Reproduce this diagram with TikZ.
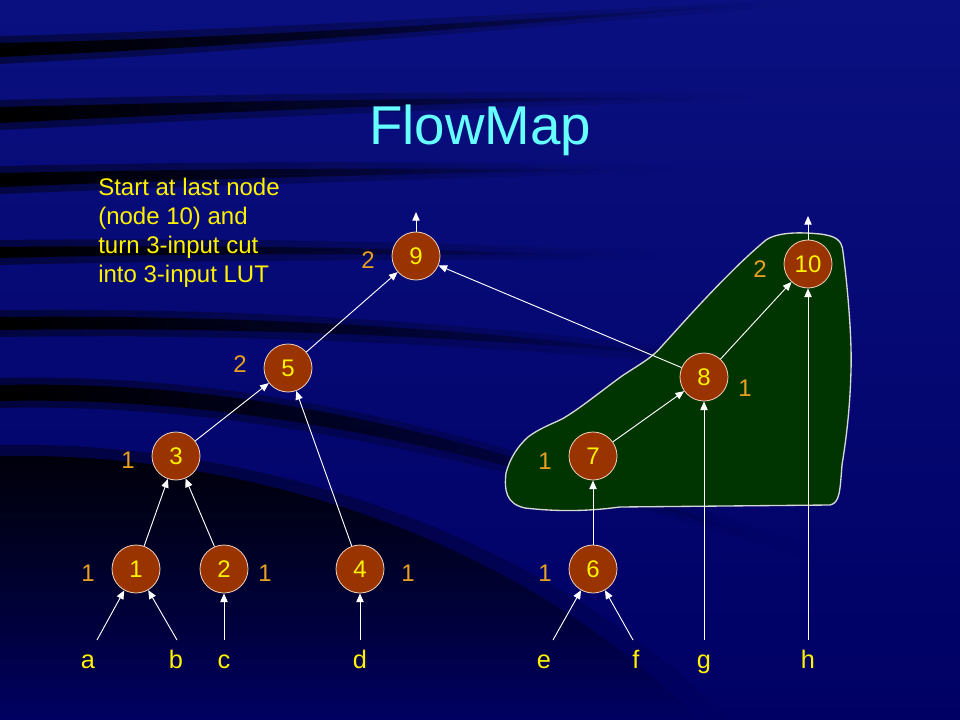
\documentclass[tikz,border=0pt]{standalone}
\usepackage{fontspec}
\setmainfont{Liberation Sans}
\usetikzlibrary{arrows.meta,fadings}
\definecolor{bgtop}{RGB}{10,16,128}
\definecolor{bgbot}{RGB}{0,0,100}
\definecolor{nodebrown}{RGB}{153,51,0}
\definecolor{nodeedge}{RGB}{240,210,190}
\definecolor{lblorange}{RGB}{232,160,32}
\definecolor{blobgreen}{RGB}{0,52,0}
\definecolor{blobedge}{RGB}{215,215,215}
\definecolor{titlecyan}{RGB}{102,255,255}
\tikzfading[name=fadeR, left color=transparent!0, right color=transparent!100]
\tikzfading[name=fadeD, top color=transparent!0, bottom color=transparent!100]
\begin{document}
\begin{tikzpicture}[x=0.75pt,y=-0.75pt,
  fnode/.style={circle, fill=nodebrown, draw=nodeedge, line width=0.6pt, minimum size=36pt, inner sep=0pt, text=yellow, font=\fontsize{18}{21}\selectfont},
  wlbl/.style={text=lblorange, inner sep=0pt, font=\fontsize{18}{21}\selectfont},
  inlbl/.style={text=yellow, inner sep=0pt, font=\fontsize{19}{22}\selectfont},
  conn/.style={draw=white, line width=0.7pt, -{Triangle[length=6.5pt,width=5.5pt]}},
  band/.style={fill=black, path fading=fadeR},
  haze/.style={fill=black, opacity=0.45, path fading=fadeR}]
\useasboundingbox (0,0) rectangle (960,720);
% background
\fill[top color=bgtop, bottom color=bgbot] (0,0) rectangle (960,720);
% swooshes (soft halo + core)
\fill[haze] (0,36) .. controls (250,30) and (500,14) .. (800,0) -- (820,4) .. controls (500,30) and (250,52) .. (0,64) -- cycle;
\fill[band] (0,43) .. controls (250,38) and (480,22) .. (760,4) .. controls (480,28) and (250,46) .. (0,57) -- cycle;
\fill[haze] (0,100) .. controls (250,94) and (450,90) .. (760,94) -- (760,100) .. controls (450,108) and (250,118) .. (0,130) -- cycle;
\fill[band] (0,107) .. controls (250,101) and (450,97) .. (700,98) .. controls (450,102) and (250,111) .. (0,123) -- cycle;
\fill[haze] (0,166) .. controls (200,162) and (400,160) .. (680,166) -- (680,172) .. controls (400,180) and (200,186) .. (0,194) -- cycle;
\fill[band] (0,173) .. controls (200,169) and (400,167) .. (620,170) .. controls (400,174) and (200,179) .. (0,187) -- cycle;
\fill[haze] (0,240) .. controls (200,238) and (400,240) .. (660,252) -- (660,260) .. controls (400,260) and (200,260) .. (0,265) -- cycle;
\fill[band] (0,247) .. controls (200,245) and (400,247) .. (600,256) .. controls (400,254) and (200,253) .. (0,258) -- cycle;
\fill[haze] (0,310) .. controls (200,308) and (450,316) .. (780,362) -- (780,372) .. controls (450,340) and (200,334) .. (0,337) -- cycle;
\fill[band] (0,317) .. controls (200,315) and (450,323) .. (720,360) .. controls (450,333) and (200,327) .. (0,330) -- cycle;
\fill[haze] (0,378) .. controls (200,374) and (420,404) .. (820,550) -- (820,562) .. controls (420,436) and (200,404) .. (0,408) -- cycle;
\fill[band] (0,385) .. controls (200,381) and (420,411) .. (760,540) .. controls (420,429) and (200,397) .. (0,401) -- cycle;
\fill[black, opacity=0.4, path fading=fadeD] (0,445) .. controls (250,440) and (540,530) .. (730,720) -- (0,720) -- cycle;
\fill[black, opacity=0.85, path fading=fadeD] (0,456) .. controls (250,451) and (520,540) .. (700,720) -- (0,720) -- cycle;
% title
\node[text=titlecyan, font=\fontsize{41}{48}\selectfont, anchor=base] (title) at (480,145) {FlowMap};
% note
\node[inlbl, anchor=north west, align=left, font=\fontsize{18}{21.75}\selectfont] (note) at (98,178)
  {Start at last node\\(node 10) and\\turn 3-input cut\\into 3-input LUT};
% green cut region
\filldraw[fill=blobgreen, draw=blobedge, line width=1pt]
  (506,473) .. controls (510,458) and (518,446) .. (528,437)
  .. controls (540,428) and (552,424) .. (562,419)
  .. controls (578,410) and (600,392) .. (622,376)
  .. controls (640,364) and (652,358) .. (662,346)
  .. controls (690,315) and (730,270) .. (766,240)
  .. controls (778,232) and (800,232) .. (820,234)
  .. controls (836,236) and (842,240) .. (843,252)
  .. controls (848,290) and (852,340) .. (851,370)
  .. controls (850,410) and (846,440) .. (842,465)
  .. controls (840,490) and (840,503) .. (830,505)
  -- (620,507)
  .. controls (590,511) and (560,512) .. (525,508)
  .. controls (506,504) and (504,490) .. (506,473) -- cycle;
% nodes
\node[fnode] (n9) at (416,256) {9};
\node[fnode] (n10) at (808,264) {10};
\node[fnode] (n5) at (288,368) {5};
\node[fnode] (n8) at (704,377) {8};
\node[fnode] (n3) at (176,456) {3};
\node[fnode] (n7) at (593,456) {7};
\node[fnode] (n1) at (136,569) {1};
\node[fnode] (n2) at (224,569) {2};
\node[fnode] (n4) at (360,569) {4};
\node[fnode] (n6) at (593,569) {6};
% weight labels
\node[wlbl] (w9) at (368,260) {2};
\node[wlbl] (w5) at (240,364) {2};
\node[wlbl] (w3) at (128,460) {1};
\node[wlbl] (w1) at (88,573) {1};
\node[wlbl] (w2) at (265,573) {1};
\node[wlbl] (w4) at (408,573) {1};
\node[wlbl] (w6) at (545,573) {1};
\node[wlbl] (w7) at (545,461) {1};
\node[wlbl] (w8) at (745,388) {1};
\node[wlbl] (w10) at (760,269) {2};
% inputs
\node[inlbl, anchor=base] (la) at (88,668) {a};
\node[inlbl, anchor=base] (lb) at (176,668) {b};
\node[inlbl, anchor=base] (lc) at (224,668) {c};
\node[inlbl, anchor=base] (ld) at (360,668) {d};
\node[inlbl, anchor=base] (le) at (544,668) {e};
\node[inlbl, anchor=base] (lf) at (636,668) {f};
\node[inlbl, anchor=base] (lg) at (704,668) {g};
\node[inlbl, anchor=base] (lh) at (808,668) {h};
\coordinate (ia) at (97,640);
\coordinate (ib) at (177,640);
\coordinate (ic) at (224,640);
\coordinate (id) at (360,640);
\coordinate (ie) at (553,640);
\coordinate (if) at (633,640);
\coordinate (ig) at (704,640);
\coordinate (ih) at (808,640);
\coordinate (o9) at (416,212);
\coordinate (o10) at (808,216);
% connectors
\draw[conn] (ia) -- (n1);
\draw[conn] (ib) -- (n1);
\draw[conn] (ic) -- (n2);
\draw[conn] (id) -- (n4);
\draw[conn] (ie) -- (n6);
\draw[conn] (if) -- (n6);
\draw[conn] (ig) -- (n8);
\draw[conn] (ih) -- (n10);
\draw[conn] (n1) -- (n3);
\draw[conn] (n2) -- (n3);
\draw[conn] (n3) -- (n5);
\draw[conn] (n4) -- (n5);
\draw[conn] (n5) -- (n9);
\draw[conn] (n8) -- (n9);
\draw[conn] (n6) -- (n7);
\draw[conn] (n7) -- (n8);
\draw[conn] (n8) -- (n10);
\draw[conn] (n9) -- (o9);
\draw[conn] (n10) -- (o10);
\end{tikzpicture}
\end{document}
